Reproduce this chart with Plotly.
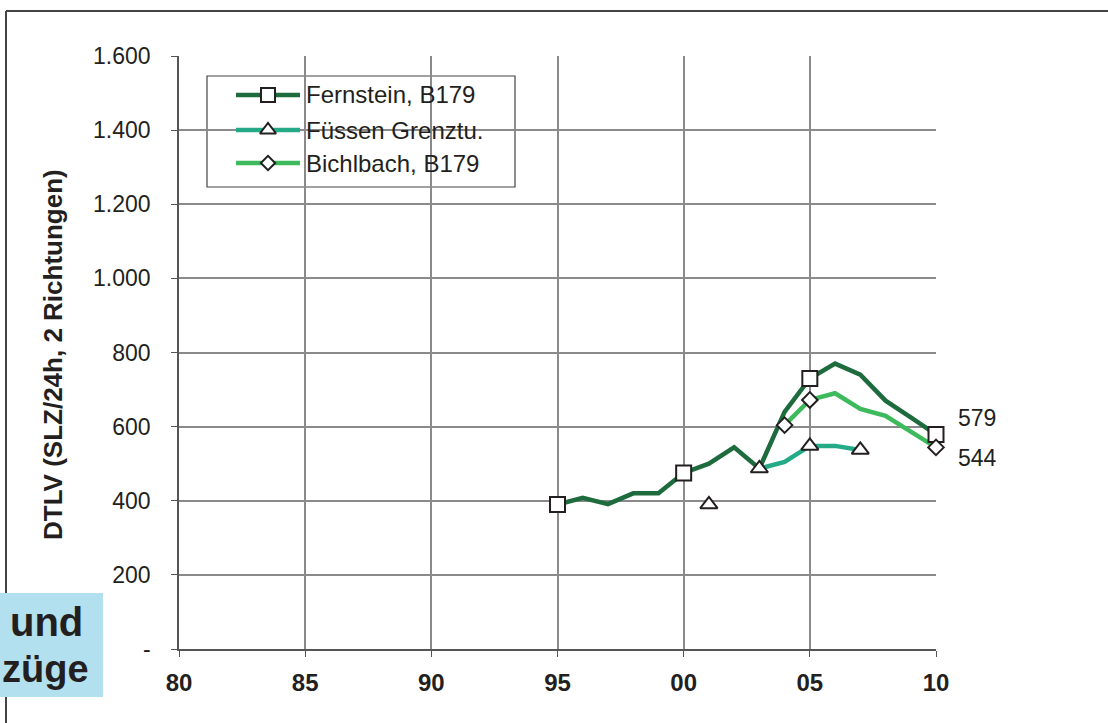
import plotly.graph_objects as go

# ---- data ----
fern_years = list(range(1995, 2011))
fern_vals = [390, 408, 391, 420, 420, 475, 500, 544, 487, 640, 730, 770, 740, 670, 625, 579]
fern_marker_years = [1995, 2000, 2005, 2010]

fues_years = [2001, 2002, 2003, 2004, 2005, 2006, 2007]
fues_vals = [390, None, 487, 505, 548, 548, 537]
fues_marker_years = [2001, 2003, 2005, 2007]

bich_years = [2004, 2005, 2006, 2007, 2008, 2009, 2010]
bich_vals = [604, 672, 690, 648, 629, 586, 544]
bich_marker_years = [2004, 2005, 2010]

x_tickvals = [1980, 1985, 1990, 1995, 2000, 2005, 2010]
x_ticktext = ["80", "85", "90", "95", "00", "05", "10"]
y_tickvals = [0, 200, 400, 600, 800, 1000, 1200, 1400, 1600]
y_ticktext = ["-", "200", "400", "600", "800", "1.000", "1.200", "1.400", "1.600"]

end_labels = ["579", "544"]

names = ["Fernstein, B179", "Füssen Grenztu.", "Bichlbach, B179"]
colors = ["#1e6c3e", "#24aa86", "#3dba5b"]
symbols = ["square", "triangle-up", "diamond"]
msizes = [15, 15, 12]

# ---- layout geometry (pixels) ----
W, H = 1108, 723
L, R, T, B = 179, 936, 56, 649
pw, ph = R - L, B - T


def px(x):
    return (x - L) / pw


def py(y):
    return (B - y) / ph


FONT = "Liberation Sans, Arial, sans-serif"
TXT = "#231f20"

fig = go.Figure()

series = [
    (fern_years, fern_vals, fern_marker_years),
    (fues_years, fues_vals, fues_marker_years),
    (bich_years, bich_vals, bich_marker_years),
]

for i, (xs, ys, mys) in enumerate(series):
    fig.add_trace(go.Scatter(
        x=xs, y=ys, mode="lines", line=dict(color=colors[i], width=4.5),
        showlegend=False, hoverinfo="skip", cliponaxis=False, connectgaps=False))

for i, (xs, ys, mys) in enumerate(series):
    my = [ys[xs.index(x)] for x in mys]
    fig.add_trace(go.Scatter(
        x=mys, y=my, mode="markers",
        marker=dict(symbol=symbols[i], size=msizes[i], color="white",
                    line=dict(color=TXT, width=2)),
        showlegend=False, cliponaxis=False))

# ---- manual legend on a pixel-space overlay axis ----
leg_rows = [95, 130, 163]
leg_x0, leg_x1, leg_mx, leg_tx = 236, 300, 268, 307
for i in range(3):
    fig.add_trace(go.Scatter(
        x=[leg_x0, leg_x1], y=[leg_rows[i], leg_rows[i]], mode="lines",
        line=dict(color=colors[i], width=4.5), xaxis="x2", yaxis="y2",
        showlegend=False, hoverinfo="skip"))
    fig.add_trace(go.Scatter(
        x=[leg_mx], y=[leg_rows[i]], mode="markers", xaxis="x2", yaxis="y2",
        marker=dict(symbol=symbols[i], size=msizes[i] - 1, color="white",
                    line=dict(color=TXT, width=2)),
        showlegend=False, hoverinfo="skip"))

shapes = [
    # outer frame
    dict(type="line", xref="paper", yref="paper", x0=px(6), x1=px(W + 5), y0=py(11), y1=py(11),
         line=dict(color="#444", width=2)),
    dict(type="line", xref="paper", yref="paper", x0=px(6), x1=px(6), y0=py(11), y1=py(H + 5),
         line=dict(color="#444", width=2)),
    # blue box
    dict(type="rect", xref="paper", yref="paper", x0=px(-2), x1=px(103), y0=py(697), y1=py(593),
         fillcolor="#b3e0ee", line=dict(width=0)),
    # legend box
    dict(type="rect", xref="paper", yref="paper", x0=px(207), x1=px(515), y0=py(187), y1=py(76),
         fillcolor="white", line=dict(color="#444", width=1.2), layer="below"),
]

annotations = [
    dict(xref="paper", yref="paper", x=px(53), y=py(355), text="<b>DTLV (SLZ/24h, 2 Richtungen)</b>",
         textangle=-90, showarrow=False, font=dict(family=FONT, size=26, color=TXT),
         xanchor="center", yanchor="middle"),
    dict(xref="paper", yref="paper", x=px(85), y=py(622), text="<b>und</b>", showarrow=False,
         xanchor="right", yanchor="middle", font=dict(family=FONT, size=40, color=TXT)),
    dict(xref="paper", yref="paper", x=px(0), y=py(669), text="<b>züge</b>", showarrow=False,
         xanchor="left", yanchor="middle", font=dict(family=FONT, size=38, color=TXT)),
]
for i in range(3):
    annotations.append(dict(xref="paper", yref="paper", x=px(leg_tx - 3), y=py(leg_rows[i]),
                            text=names[i], showarrow=False, xanchor="left", yanchor="middle",
                            font=dict(family=FONT, size=24, color=TXT)))
# end-of-series value labels, placed next to the 2010 values
end_offsets = [418, 458]
for t, yy in zip(end_labels, end_offsets):
    annotations.append(dict(xref="paper", yref="paper", x=px(977), y=py(yy), text=t,
                            showarrow=False, xanchor="center", yanchor="middle",
                            font=dict(family=FONT, size=23, color=TXT)))

fig.update_layout(
    width=W, height=H,
    margin=dict(l=L, r=W - R, t=T, b=H - B, pad=0),
    paper_bgcolor="white", plot_bgcolor="white",
    font=dict(family=FONT, size=22, color=TXT),
    showlegend=False,
    shapes=shapes,
    annotations=annotations,
    xaxis=dict(range=[1980, 2010], tickvals=x_tickvals, ticktext=x_ticktext,
               showgrid=True, gridcolor="#8a8a8a", gridwidth=1.5,
               showline=True, linecolor="#555", linewidth=1.5,
               ticks="outside", ticklen=6, tickcolor="#555", ticklabelstandoff=5,
               tickfont=dict(family=FONT, size=24, color=TXT, weight="bold"),
               zeroline=False, fixedrange=True),
    yaxis=dict(range=[0, 1600], tickvals=y_tickvals, ticktext=y_ticktext,
               showgrid=True, gridcolor="#8a8a8a", gridwidth=1.5,
               showline=True, linecolor="#555", linewidth=1.5,
               ticks="outside", ticklen=6, tickcolor="#555", ticklabelstandoff=16,
               tickfont=dict(family=FONT, size=23, color=TXT),
               zeroline=False, fixedrange=True),
    xaxis2=dict(range=[L, R], overlaying="x", visible=False, fixedrange=True),
    yaxis2=dict(range=[B, T], overlaying="y", visible=False, fixedrange=True),
)

fig.write_html("out.html", config={"displayModeBar": False},
               post_script="document.body.style.margin='0px';document.body.style.overflow='hidden';")
